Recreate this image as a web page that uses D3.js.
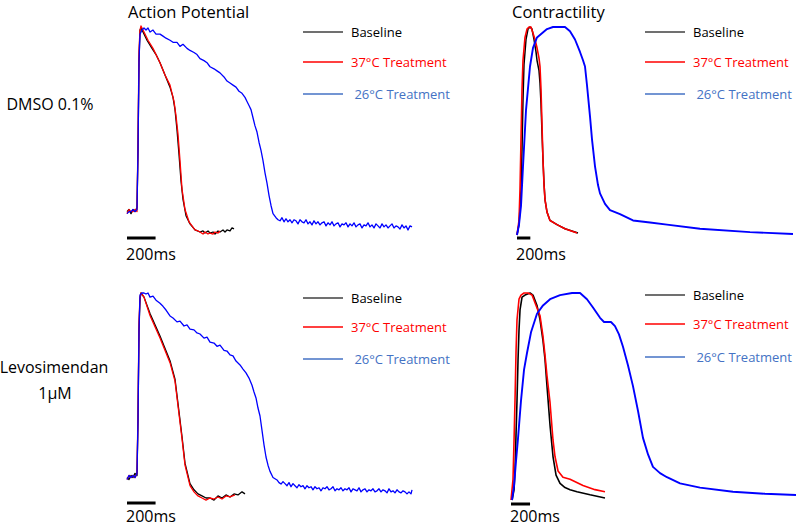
<!DOCTYPE html>
<html><head><meta charset="utf-8">
<script src="https://cdn.jsdelivr.net/npm/d3@7"></script>
<style>body{margin:0;background:#fff}svg{display:block}text{font-family:"Open Sans",sans-serif}</style>
</head><body><svg id="c" width="797" height="527"></svg>
<script>
// ---------- labels ----------
const columnTitles = ["Action Potential", "Contractility"];
const rowLabels = [["DMSO 0.1%"], ["Levosimendan", "1μM"]];
const seriesNames = ["Baseline", "37°C Treatment", " 26°C Treatment"];
const scaleBarLabel = "200ms";
const scaleBarMs = 200;

// ---------- data: [time (ms), amplitude (% of peak)] ----------
// Row 1: DMSO 0.1% - action potential
const apBaselineDMSO = [[0,10],[14,11],[28,9],[42,11],[56,10],[70,12],[77,40],[84,84],[91,99],[98,100],[112,98],[140,94],[175,90],[203,87],[231,83],[266,77],[301,71],[322,66],[336,60],[350,50],[364,38],[378,25],[392,16],[413,8],[441,4],[476,1],[511,0],[532,0.5],[546,-0.5],[567,0.5],[581,-0.5],[602,0],[616,-1],[637,0.5],[651,0],[672,1],[686,0],[700,1],[721,0.5],[735,2],[749,1.5]];
const ap37DMSO = [[0,9],[14,11],[28,10],[42,10],[56,11],[70,10],[77,45],[84,89],[91,99],[98,101],[119,98],[147,94],[182,90],[231,83],[266,77],[301,72],[329,64],[343,57],[357,48],[371,35],[385,21],[406,11],[434,5],[476,1],[497,0.5],[511,0],[532,-1],[546,0],[567,-1],[581,-0.5],[602,-1],[616,0],[637,-0.5],[651,0.5]];
const ap26DMSO = [[0,9],[14,10],[28,10],[42,11],[56,10],[70,11],[77,40],[84,84],[91,97],[105,99],[119,100],[133,99],[147,100],[161,98],[182,99],[203,97],[231,97],[252,96],[273,95],[301,94],[322,93],[350,93],[371,91],[392,92],[420,90],[441,89],[469,88],[490,87],[511,85],[539,84],[560,83],[581,81],[609,80],[630,79],[651,78],[679,76],[700,74],[721,73],[742,72],[763,71],[784,69],[805,68],[826,66],[840,64],[854,62],[868,60],[882,56],[896,52],[910,49],[924,44],[938,40],[952,35],[966,29],[980,24],[994,18],[1008,13],[1022,9],[1043,7],[1057,6],[1071,5.5],[1085,7],[1099,5],[1113,6.5],[1127,5],[1141,6],[1155,4.5],[1169,6],[1183,5.5],[1197,4],[1211,6],[1225,5],[1239,4.5],[1253,6],[1267,4],[1281,5],[1295,3.5],[1309,5.5],[1323,4],[1337,5],[1351,3.5],[1365,4.5],[1379,5],[1393,3],[1407,4.5],[1421,3.5],[1435,5],[1449,3],[1463,4],[1477,4.5],[1491,2.5],[1505,4],[1519,3.5],[1533,4.5],[1547,2.5],[1561,4],[1575,3],[1589,4.5],[1603,2.5],[1617,3.5],[1631,4],[1645,2],[1659,3.5],[1673,3],[1687,4.5],[1701,2.5],[1715,3.5],[1729,2],[1743,4],[1757,3],[1771,2],[1785,4],[1799,2.5],[1813,3.5],[1827,2],[1841,3],[1855,4],[1869,2],[1883,3],[1897,2.5],[1911,1.5],[1925,3.5],[1939,2],[1953,3],[1967,1],[1981,3],[1995,2.5]];
// Row 1: DMSO 0.1% - contractility
const ctBaselineDMSO = [[0,0],[30,5],[60,22],[75,41],[90,65],[105,82],[135,94],[165,99],[195,100],[225,99],[255,94],[285,88],[300,84],[330,79],[345,73],[360,63],[375,49],[390,36],[405,25],[420,17],[450,11],[495,7],[600,5],[720,3],[915,1]];
const ct37DMSO = [[0,0],[30,7],[45,22],[60,46],[75,70],[90,84],[120,95],[150,99],[180,100],[210,100],[240,97],[270,94],[300,90],[330,85],[345,81],[360,70],[375,53],[390,36],[405,24],[420,17],[450,11],[495,7],[600,5],[720,3],[900,1]];
const ct26DMSO = [[0,0],[30,5],[60,14],[90,33],[135,60],[195,81],[240,90],[300,95],[375,97],[450,99],[540,100],[645,100],[720,100],[795,98],[870,94],[945,88],[990,84],[1020,81],[1050,72],[1095,57],[1125,46],[1170,33],[1215,24],[1245,20],[1320,15],[1395,12],[1545,10],[1740,7],[1995,6],[2250,5],[2745,3],[3495,1.4],[4140,0.5]];
// Row 2: Levosimendan 1μM - action potential
const apBaselineLevo = [[0,10],[14,9],[28,11],[42,10],[56,12],[70,11],[77,38],[84,82],[91,97],[98,100],[119,98],[161,90],[231,79],[301,67],[336,58],[357,46],[385,30],[406,17],[441,7],[469,4],[497,2],[525,1],[553,0],[581,0],[609,-1],[637,1],[665,0],[693,1.5],[721,0.5],[749,2],[777,1.5],[805,3],[826,2]];
const ap37Levo = [[0,9],[14,11],[28,10],[42,11],[56,10],[70,12],[77,42],[84,86],[91,98],[98,100],[119,98],[161,89],[231,78],[301,66],[336,57],[357,45],[385,29],[406,16],[441,6],[469,3],[497,1],[525,0],[553,-1],[581,0],[609,-0.5],[637,0.5],[665,-0.5],[693,1],[721,0.5],[756,1.5]];
const ap26Levo = [[0,9],[14,11],[28,10],[42,11],[56,10],[70,12],[77,38],[84,82],[91,99],[105,100],[119,100],[133,99.5],[147,100],[161,98],[182,98.5],[203,96.5],[231,95],[252,93.5],[273,91.7],[301,88.8],[322,87.8],[350,85.9],[371,86.3],[399,83.9],[420,84.4],[441,82.4],[469,82],[490,80.5],[511,80],[539,78],[560,78.5],[581,76],[609,75.6],[630,74],[651,74.6],[679,72],[700,71.7],[721,69.8],[742,69.3],[763,66.8],[791,64.9],[812,62.9],[833,61],[854,58.5],[875,55],[889,51.7],[903,48.8],[917,43.9],[931,40],[945,33],[959,25.9],[973,20],[987,16],[1001,13],[1022,10],[1050,8.8],[1064,7.5],[1078,6.8],[1092,8],[1106,7],[1120,6],[1134,7.5],[1148,5.5],[1162,7],[1176,6],[1190,5],[1204,6.5],[1218,5.5],[1232,6],[1246,4.5],[1260,6],[1274,5],[1288,5.5],[1302,4],[1316,5.5],[1330,4.5],[1344,5],[1358,3.5],[1372,5],[1386,4.5],[1400,5.5],[1414,4],[1428,4.5],[1442,5.5],[1456,3.5],[1470,4.5],[1484,4],[1498,5],[1512,3.5],[1526,4.5],[1540,4],[1554,5],[1568,3],[1582,4.5],[1596,4],[1610,3.5],[1624,5],[1638,3],[1652,4],[1666,4.5],[1680,3],[1694,4],[1708,3.5],[1722,4.5],[1736,3],[1750,3.5],[1764,4.5],[1778,3],[1792,4],[1806,3.5],[1820,2.5],[1834,4.5],[1848,3],[1862,3.5],[1876,2.5],[1890,4],[1904,3],[1918,2.5],[1932,3.5],[1946,3],[1960,2],[1974,3],[1988,2],[1995,4]];
// Row 2: Levosimendan 1μM - contractility
const ctBaselineLevo = [[11,0],[32,5],[42,14],[53,32],[63,48],[74,68],[84,82],[95,92],[116,98],[147,99],[200,100],[231,99],[273,94],[305,87],[336,77],[357,68],[378,55],[410,36],[441,21],[473,12],[515,8],[567,6],[620,5],[693,4],[830,2.5],[987,1]];
const ct37Levo = [[0,0],[21,10],[32,29],[42,48],[53,72],[63,87],[84,97],[105,99],[137,100],[179,100],[221,99],[263,94],[305,89],[336,79],[357,70],[378,60],[410,47],[441,29],[462,21],[494,14],[546,11],[620,10],[756,7],[882,5],[987,4]];
const ct26Levo = [[11,0],[32,7],[53,19],[74,30],[105,48],[137,63],[168,71],[210,81],[273,90],[336,94],[410,97],[515,99],[641,100],[725,100],[798,97],[861,93],[935,88],[977,86],[1008,86],[1050,86],[1092,84],[1134,80],[1176,74],[1229,65],[1281,55],[1334,43],[1386,30],[1439,22],[1491,16],[1565,13],[1638,11],[1775,8],[1985,6],[2331,4],[2667,3],[2993,2.4]];

// ---------- layout / styles ----------
const traceColors = ["#000000", "#ff0000", "#0000ff"];
const legendColors = ["#404040", "#ff0000", "#4472c4"];
const legendTextColors = ["#000000", "#ff0000", "#4472c4"];

const panels = [
  {series:[apBaselineDMSO, ap37DMSO, ap26DMSO], xd:[0,1995], xr:[127,412], yr:[232,28], w:[1.3,1.3,1.3], legX:303, legY:[32,62,94], barY:238, labelY:260},
  {series:[ctBaselineDMSO, ct37DMSO, ct26DMSO], xd:[0,4140], xr:[517,793], yr:[235,27], w:[1.5,1.6,1.9], legX:645, legY:[32,62,94], barY:238, labelY:260},
  {series:[apBaselineLevo, ap37Levo, ap26Levo], xd:[0,1995], xr:[127,412], yr:[498,293], w:[1.3,1.3,1.3], legX:303, legY:[298,327,359], barY:503, labelY:522},
  {series:[ctBaselineLevo, ct37Levo, ct26Levo], xd:[0,2993], xr:[511,796], yr:[500,293], w:[1.6,1.6,1.9], legX:645, legY:[295,324,357], barY:504, labelY:522}
];

const svg = d3.select("#c");

panels.forEach(p => {
  const x = d3.scaleLinear().domain(p.xd).range(p.xr);
  const y = d3.scaleLinear().domain([0,100]).range(p.yr);
  const line = d3.line().x(d => x(d[0])).y(d => y(d[1])).curve(d3.curveLinear);
  const g = svg.append("g");
  p.series.forEach((s, i) => {
    g.append("path").datum(s).attr("d", line)
      .attr("fill", "none").attr("stroke", traceColors[i])
      .attr("stroke-width", p.w[i]).attr("stroke-linejoin", "round");
  });
  // scale bar
  g.append("line").attr("x1", x(0)).attr("x2", x(scaleBarMs))
    .attr("y1", p.barY).attr("y2", p.barY)
    .attr("stroke", "#000").attr("stroke-width", 3);
  g.append("text").attr("x", x(0) - 1).attr("y", p.labelY)
    .attr("font-size", 16).attr("fill", "#000").text(scaleBarLabel);
  // legend
  seriesNames.forEach((n, i) => {
    g.append("line").attr("x1", p.legX).attr("x2", p.legX + 40)
      .attr("y1", p.legY[i]).attr("y2", p.legY[i])
      .attr("stroke", legendColors[i]).attr("stroke-width", 1.5);
    g.append("text").attr("x", p.legX + 48).attr("y", p.legY[i] + 4.7)
      .attr("font-size", 13).attr("fill", legendTextColors[i])
      .attr("xml:space", "preserve").style("white-space", "pre").text(n);
  });
});

// column titles
svg.append("text").attr("x", 128).attr("y", 18).attr("font-size", 16.5).text(columnTitles[0]);
svg.append("text").attr("x", 512).attr("y", 18).attr("font-size", 16.5).text(columnTitles[1]);

// row labels
svg.append("text").attr("x", 50).attr("y", 110).attr("text-anchor", "middle").attr("font-size", 16).text(rowLabels[0][0]);
svg.append("text").attr("x", 54).attr("y", 373).attr("text-anchor", "middle").attr("font-size", 16).text(rowLabels[1][0]);
svg.append("text").attr("x", 55).attr("y", 399).attr("text-anchor", "middle").attr("font-size", 16).text(rowLabels[1][1]);
</script></body></html>
